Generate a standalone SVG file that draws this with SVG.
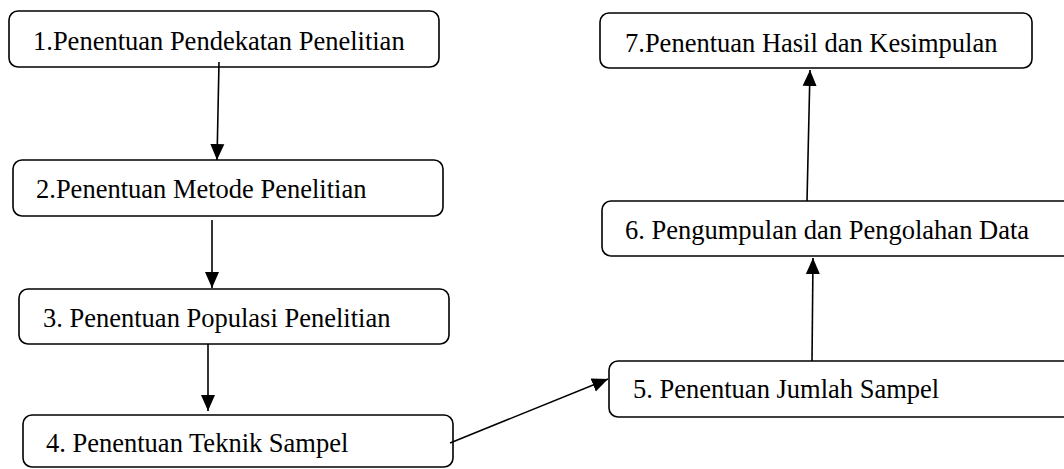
<svg xmlns="http://www.w3.org/2000/svg" width="1064" height="469" viewBox="0 0 1064 469">
<style>
.box{fill:#fff;stroke:#000;stroke-width:1.6}
.lbl{font-family:"Liberation Serif","Times New Roman",serif;font-size:26.5px;fill:#000}
.con{stroke:#000;stroke-width:1.6;fill:none;marker-end:url(#ah)}
</style>
<defs>
<marker id="ah" markerUnits="userSpaceOnUse" markerWidth="16" markerHeight="16" viewBox="0 0 16 16" refX="16" refY="8" orient="auto">
<path d="M0,1 L16,8 L0,15 Z" fill="#000"/>
</marker>
</defs>
<rect width="1064" height="469" fill="#fff"/>
<g id="n1"><rect class="box" x="9" y="11" width="430" height="56" rx="9"/><text class="lbl" x="33" y="50">1.Penentuan Pendekatan Penelitian</text></g>
<g id="n2"><rect class="box" x="13" y="160" width="430" height="56" rx="9"/><text class="lbl" x="36" y="198">2.Penentuan Metode Penelitian</text></g>
<g id="n3"><rect class="box" x="19" y="289" width="430" height="55" rx="9"/><text class="lbl" x="43" y="327">3. Penentuan Populasi Penelitian</text></g>
<g id="n4"><rect class="box" x="23" y="415" width="430" height="52" rx="9"/><text class="lbl" x="46" y="452">4. Penentuan Teknik Sampel</text></g>
<g id="n5"><rect class="box" x="609" y="361" width="470" height="56" rx="9"/><text class="lbl" x="633" y="398">5. Penentuan Jumlah Sampel</text></g>
<g id="n6"><rect class="box" x="602" y="201" width="470" height="55" rx="9"/><text class="lbl" x="625" y="239">6. Pengumpulan dan Pengolahan Data</text></g>
<g id="n7"><rect class="box" x="600" y="13" width="432" height="55" rx="9"/><text class="lbl" x="625" y="52">7.Penentuan Hasil dan Kesimpulan</text></g>
<g id="connectors">
<line class="con" x1="219" y1="62" x2="217" y2="160"/>
<line class="con" x1="212" y1="220" x2="212" y2="288"/>
<line class="con" x1="208" y1="344" x2="208" y2="411"/>
<line class="con" x1="450" y1="443" x2="608" y2="379"/>
<line class="con" x1="812" y1="361" x2="813" y2="258"/>
<line class="con" x1="807" y1="201" x2="810" y2="70"/>
</g>
</svg>
